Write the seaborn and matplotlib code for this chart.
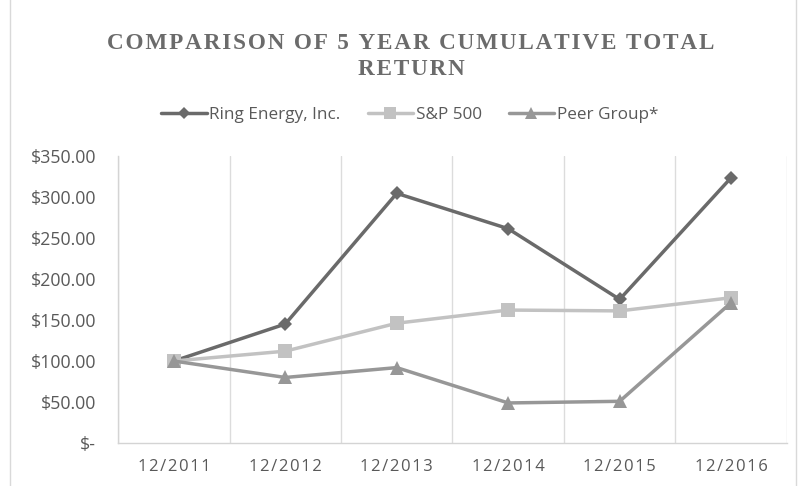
import numpy as np
import pandas as pd
import seaborn as sns
import matplotlib.pyplot as plt
from matplotlib.ticker import FixedLocator, FuncFormatter

# Data
periods = ["12/2011", "12/2012", "12/2013", "12/2014", "12/2015", "12/2016"]
ring = [100.0, 145.0, 304.0, 261.0, 175.0, 323.0]
sp500 = [100.0, 112.0, 146.0, 162.0, 161.0, 177.0]
peer = [100.0, 80.0, 92.0, 49.0, 51.0, 171.0]
series = ["Ring Energy, Inc.", "S&P 500", "Peer Group*"]

df = pd.DataFrame({
    "period": periods * 3,
    "value": ring + sp500 + peer,
    "series": np.repeat(series, len(periods)),
})

palette = {"Ring Energy, Inc.": "#6a6a6a", "S&P 500": "#c2c2c2", "Peer Group*": "#979797"}
markers = {"Ring Energy, Inc.": "D", "S&P 500": "s", "Peer Group*": "^"}
msizes = {"Ring Energy, Inc.": 7, "S&P 500": 9.5, "Peer Group*": 9.5}

sns.set_theme(style="white")
plt.rcParams['font.family'] = ['Open Sans', 'DejaVu Sans']


def spaced(s, gap="\u200a", word="\u200a \u200a"):
    # Letter-spaced text like the original Excel styling
    return gap.join(s).replace(gap + " " + gap, word)


fig, ax = plt.subplots(figsize=(7.98, 4.86), dpi=100)
fig.subplots_adjust(left=0.148, right=0.986, top=0.68, bottom=0.088)

sns.lineplot(data=df, x="period", y="value", hue="series", style="series",
             palette=palette, markers=markers, dashes=False, linewidth=2.5,
             markeredgewidth=0, ax=ax, sort=False)
for line, name in zip(ax.lines, series):
    line.set_markersize(msizes[name])

# Axes
ax.set_xlim(-0.5, len(periods) - 0.5)
ax.set_ylim(0, 350)
ax.yaxis.set_major_locator(FixedLocator(np.arange(0, 351, 50)))
ax.yaxis.set_major_formatter(FuncFormatter(
    lambda v, p: "$-" if v == 0 else f"${v:,.2f}"))
ax.set_xticks(range(len(periods)))
ax.set_xticklabels([spaced(p) for p in periods])
ax.xaxis.set_minor_locator(FixedLocator(np.arange(-0.5, len(periods), 1)))
ax.grid(which="minor", axis="x", color="#dcdcdc", linewidth=1)
ax.grid(which="major", axis="y", visible=False)
ax.tick_params(which="both", length=0)
ax.tick_params(axis="y", labelsize=12.8, labelcolor="#595959", pad=16)
ax.tick_params(axis="x", labelsize=12, labelcolor="#595959", pad=11)
ax.set_xlabel("")
ax.set_ylabel("")
for side in ["top", "right"]:
    ax.spines[side].set_visible(False)
for side in ["left", "bottom"]:
    ax.spines[side].set_color("#d4d4d4")
    ax.spines[side].set_linewidth(1)

# Legend
handles, labels = ax.get_legend_handles_labels()
for h, name in zip(handles, labels):
    h.set_markersize(msizes[name] * 0.85)
ax.legend(handles, labels, loc="center", bbox_to_anchor=(0.436, 1.14),
          ncol=3, frameon=False, fontsize=12.3, labelcolor="#595959",
          handlelength=2.65, columnspacing=1.6, handletextpad=0.15)

# Title
serif = ["Liberation Serif", "DejaVu Serif"]
fig.text(0.515, 0.911, spaced("COMPARISON OF 5 YEAR CUMULATIVE TOTAL"),
         ha="center", va="center", fontsize=16.7, fontweight="bold",
         color="#6b6b6b", family=serif)
fig.text(0.515, 0.856, spaced("RETURN"), ha="center", va="center", fontsize=16.7,
         fontweight="bold", color="#6b6b6b", family=serif)

# Chart frame
fig.patches.append(plt.Rectangle((0.012, -0.01), 0.985, 1.02, transform=fig.transFigure,
                                 fill=False, edgecolor="#d9d9d9", linewidth=1))

fig.savefig("out.png", dpi=100)
